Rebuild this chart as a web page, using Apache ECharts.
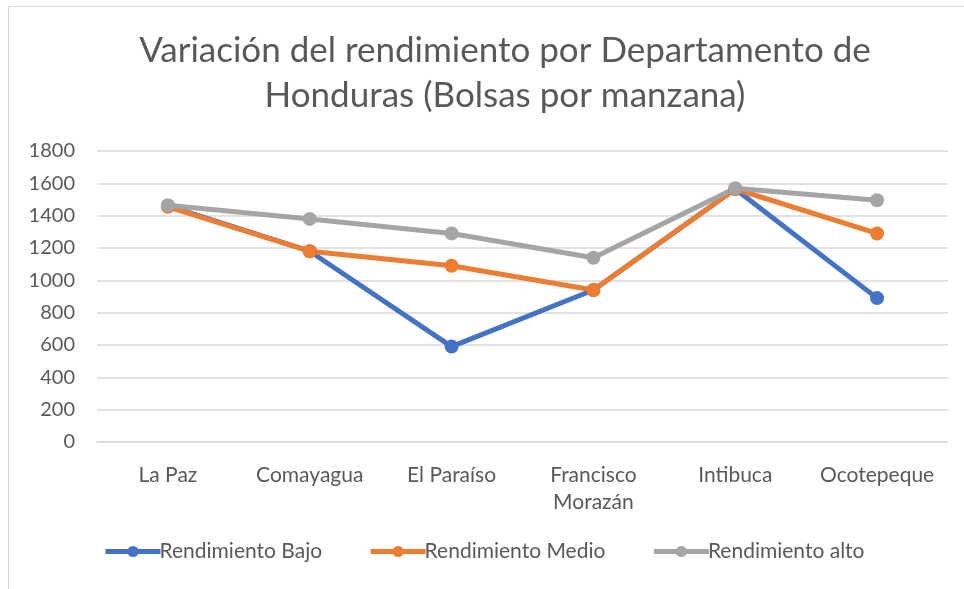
<!DOCTYPE html>
<html>
<head>
<meta charset="utf-8">
<title>Rendimiento por Departamento</title>
<script src="https://cdn.jsdelivr.net/npm/echarts@6/dist/echarts.min.js"></script>
<style>
  html, body { margin: 0; padding: 0; background: #fff; }
  #main { position: absolute; left: 0; top: 0; width: 964px; height: 589px; }
  .frame { position: absolute; left: 8px; top: 6px; width: 970px; height: 600px; border: 1px solid #d9d9d9; }
</style>
</head>
<body>
<div class="frame"></div>
<div id="main"></div>
<script>
// datos
var departamentos = ['La Paz', 'Comayagua', 'El Paraíso', 'Francisco\nMorazán', 'Intibuca', 'Ocotepeque'];
var rendBajo  = [1460, 1180, 590, 940, 1565, 890];
var rendMedio = [1455, 1180, 1090, 940, 1565, 1290];
var rendAlto  = [1465, 1380, 1290, 1140, 1570, 1495];
var yTicks = [0, 200, 400, 600, 800, 1000, 1200, 1400, 1600, 1800];

(function () {
  var myChart = echarts.init(document.getElementById('main'));
  var fuente = 'Lato';
  var serie = function (nombre, color, datos) {
    return {
      name: nombre,
      type: 'line',
      data: datos,
      symbol: 'circle',
      symbolSize: 14,
      lineStyle: { width: 5, color: color },
      itemStyle: { color: color },
      emphasis: { disabled: true }
    };
  };
  var option = {
    animation: false,
    color: ['#4472c4', '#ed7d31', '#a5a5a5'],
    title: {
      text: 'Variación del rendimiento por Departamento de\nHonduras (Bolsas por manzana)',
      left: 500,
      top: 23,
      textAlign: 'center',
      textStyle: {
        fontFamily: fuente,
        fontSize: 35,
        fontWeight: 'normal',
        color: '#595959',
        lineHeight: 45
      }
    },
    legend: {
      bottom: 22,
      left: 98,
      itemWidth: 55,
      itemHeight: 14,
      itemGap: 46,
      lineStyle: { width: 5 },
      textStyle: { fontFamily: fuente, fontSize: 21, color: '#595959', padding: [0, 0, 0, -6] },
      data: ['Rendimiento Bajo', 'Rendimiento Medio', 'Rendimiento alto']
    },
    grid: { left: 97, right: 16, top: 151, bottom: 147 },
    xAxis: {
      type: 'category',
      data: departamentos,
      boundaryGap: true,
      axisLine: { lineStyle: { color: '#d9d9d9', width: 1.5 } },
      axisTick: { show: false },
      axisLabel: {
        fontFamily: fuente,
        fontSize: 21,
        color: '#595959',
        margin: 20,
        lineHeight: 27,
        interval: 0
      }
    },
    yAxis: {
      type: 'value',
      min: yTicks[0],
      max: yTicks[yTicks.length - 1],
      interval: 200,
      axisLine: { show: false },
      axisTick: { show: false },
      splitLine: { lineStyle: { color: '#d9d9d9', width: 1.5 } },
      axisLabel: {
        fontFamily: fuente,
        fontSize: 20,
        color: '#595959',
        margin: 22,
        formatter: function (v) { return String(v); }
      }
    },
    series: [
      serie('Rendimiento Bajo', '#4472c4', rendBajo),
      serie('Rendimiento Medio', '#ed7d31', rendMedio),
      serie('Rendimiento alto', '#a5a5a5', rendAlto)
    ]
  };
  myChart.setOption(option);
  window.addEventListener('resize', function () {
    myChart.resize();
  });
})();
</script>
</body>
</html>
